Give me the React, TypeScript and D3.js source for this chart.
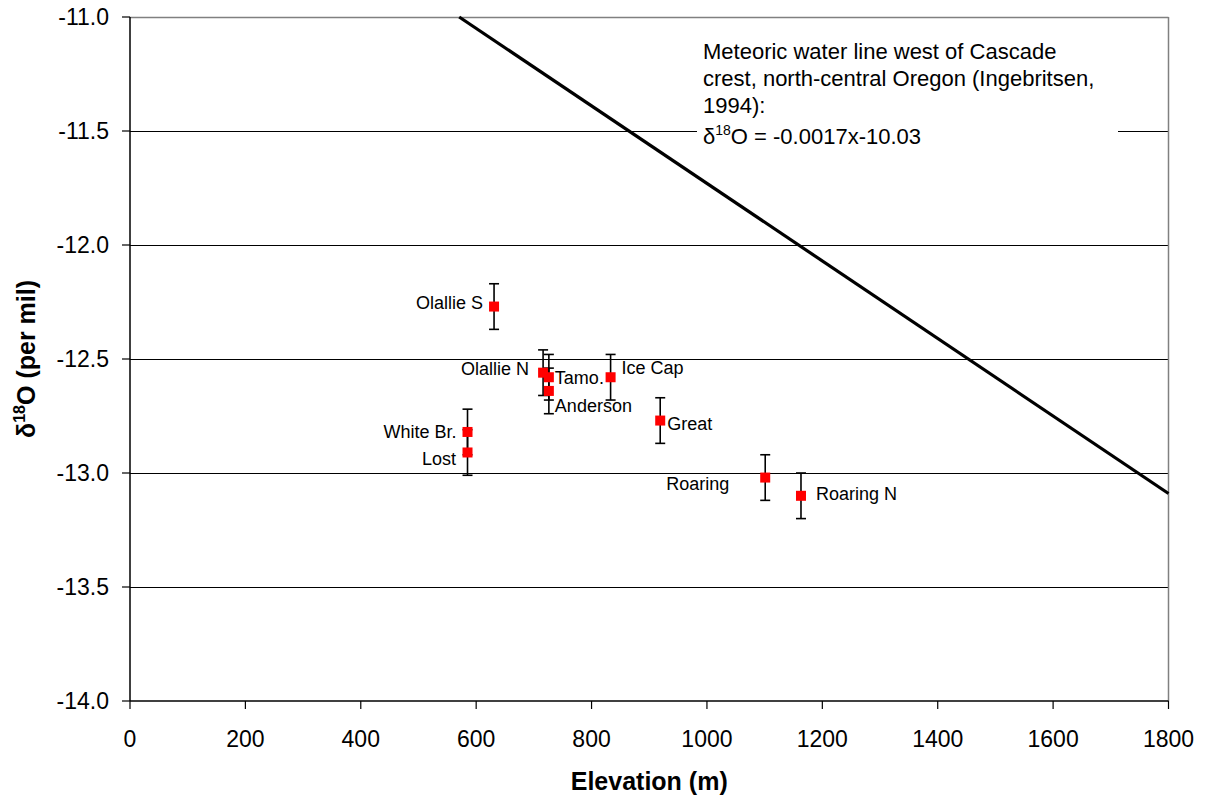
import React from "react";
import * as d3 from "d3";

const siteNames = ["Olallie S", "Olallie N", "Tamo.", "Anderson", "Ice Cap", "Great", "White Br.", "Lost", "Roaring", "Roaring N"];
const elevations = [631, 716, 726, 726, 833, 919, 585, 585, 1101, 1163];
const d18OValues = [-12.27, -12.56, -12.58, -12.64, -12.58, -12.77, -12.82, -12.91, -13.02, -13.10];
const errorValues = [0.1, 0.1, 0.1, 0.1, 0.1, 0.1, 0.1, 0.1, 0.1, 0.1];

const xTicks = [0, 200, 400, 600, 800, 1000, 1200, 1400, 1600, 1800];
const yTicks = [-11.0, -11.5, -12.0, -12.5, -13.0, -13.5, -14.0];

// meteoric water line: d18O = -0.0017x - 10.03
const mwlSlope = -0.0017;
const mwlIntercept = -10.03;

const annotationLines = [
  "Meteoric water line west of Cascade",
  "crest, north-central Oregon (Ingebritsen,",
  "1994):",
];

// label layout (offsets from marker, anchor)
const labelLayout: Record<string, { dx: number; dy: number; anchor: "start" | "end" }> = {
  "Olallie S": { dx: -11, dy: 2, anchor: "end" },
  "Olallie N": { dx: -14, dy: 2, anchor: "end" },
  "Tamo.": { dx: 6, dy: 6.5, anchor: "start" },
  "Anderson": { dx: 6, dy: 21, anchor: "start" },
  "Ice Cap": { dx: 11, dy: -3.5, anchor: "start" },
  "Great": { dx: 7, dy: 9.7, anchor: "start" },
  "White Br.": { dx: -11, dy: 5.6, anchor: "end" },
  "Lost": { dx: -11.5, dy: 12.3, anchor: "end" },
  "Roaring": { dx: -36, dy: 12.3, anchor: "end" },
  "Roaring N": { dx: 15, dy: 4.4, anchor: "start" },
};

const W = 1209;
const H = 797;
const left = 130;
const right = 1168.5;
const top = 17;
const bottom = 701;
const FONT = "'Liberation Sans', Arial, Helvetica, sans-serif";

export default function App() {
  const x = d3.scaleLinear().domain([0, 1800]).range([left, right]);
  const y = d3.scaleLinear().domain([-14, -11]).range([bottom, top]);

  const xStart = (-11 - mwlIntercept) / mwlSlope;
  const mwlPts: [number, number][] = [
    [xStart, mwlSlope * xStart + mwlIntercept],
    [1800, mwlSlope * 1800 + mwlIntercept],
  ];
  const line = d3
    .line<[number, number]>()
    .x((d) => x(d[0]))
    .y((d) => y(d[1]));

  const points = siteNames.map((n, i) => ({
    name: n,
    x: elevations[i],
    y: d18OValues[i],
    e: errorValues[i],
  }));

  return (
    <svg
      width={W}
      height={H}
      style={{ position: "absolute", left: 0, top: 0, background: "#fff" }}
      fontFamily={FONT}
    >
      <rect x={0} y={0} width={W} height={H} fill="#fff" />
      {/* gridlines */}
      {yTicks
        .filter((t) => t !== -11 && t !== -14)
        .map((t) => (
          <line key={"g" + t} x1={left} x2={right} y1={Math.round(y(t)) + 0.5} y2={Math.round(y(t)) + 0.5} stroke="#000" strokeWidth={1} />
        ))}
      {/* top and right border */}
      <line x1={left} x2={right} y1={top + 0.5} y2={top + 0.5} stroke="#808080" strokeWidth={1.5} />
      <line x1={right} x2={right} y1={top} y2={bottom} stroke="#808080" strokeWidth={1.5} />

      {/* annotation background */}
      <rect x={697} y={28} width={421} height={126} fill="#fff" />

      <path d={line(mwlPts) || ""} stroke="#000" strokeWidth={3.2} fill="none" />

      {/* axes */}
      <line x1={left} x2={left} y1={top} y2={bottom} stroke="#000" strokeWidth={1.5} />
      <line x1={left} x2={right} y1={bottom} y2={bottom} stroke="#000" strokeWidth={1.5} />
      {yTicks.map((t) => (
        <g key={"yt" + t}>
          <line x1={left - 8} x2={left} y1={y(t)} y2={y(t)} stroke="#000" strokeWidth={1.2} />
          <text x={109} y={y(t)} dy="0.36em" textAnchor="end" fontSize={23} fill="#000">
            {t.toFixed(1)}
          </text>
        </g>
      ))}
      {xTicks.map((t) => (
        <g key={"xt" + t}>
          <line x1={x(t)} x2={x(t)} y1={bottom} y2={bottom + 8} stroke="#000" strokeWidth={1.2} />
          <text x={x(t)} y={747} textAnchor="middle" fontSize={23} fill="#000">
            {t}
          </text>
        </g>
      ))}

      {/* axis titles */}
      <text x={(left + right) / 2} y={790} textAnchor="middle" fontSize={25} fontWeight="bold" fill="#000">
        Elevation (m)
      </text>
      <text
        transform={`translate(35, ${(top + bottom) / 2}) rotate(-90)`}
        textAnchor="middle"
        fontSize={25}
        fontWeight="bold"
        fill="#000"
      >
        δ<tspan fontSize={16} dy={-10}>18</tspan>
        <tspan dy={10}>O (per mil)</tspan>
      </text>

      {/* error bars and markers */}
      {points.map((p) => {
        const cx = x(p.x);
        const cy = y(p.y);
        const y1 = y(p.y + p.e);
        const y2 = y(p.y - p.e);
        return (
          <g key={p.name}>
            <line x1={cx} x2={cx} y1={y1} y2={y2} stroke="#000" strokeWidth={1.6} />
            <line x1={cx - 5} x2={cx + 5} y1={y1} y2={y1} stroke="#000" strokeWidth={1.6} />
            <line x1={cx - 5} x2={cx + 5} y1={y2} y2={y2} stroke="#000" strokeWidth={1.6} />
          </g>
        );
      })}
      {points.map((p) => (
        <rect key={"m" + p.name} x={x(p.x) - 5} y={y(p.y) - 5} width={10} height={10} fill="#ff0000" />
      ))}
      {points.map((p) => {
        const l = labelLayout[p.name];
        return (
          <text key={"l" + p.name} x={x(p.x) + l.dx} y={y(p.y) + l.dy} textAnchor={l.anchor} fontSize={18} fill="#000">
            {p.name}
          </text>
        );
      })}

      {/* annotation */}
      {annotationLines.map((s, i) => (
        <text key={"a" + i} x={703} y={59 + i * 27} fontSize={22} fill="#000">
          {s}
        </text>
      ))}
      <text x={703} y={144} fontSize={22} fill="#000">
        δ<tspan fontSize={14} dy={-9}>18</tspan>
        <tspan dy={9}>O = -0.0017x-10.03</tspan>
      </text>
    </svg>
  );
}
